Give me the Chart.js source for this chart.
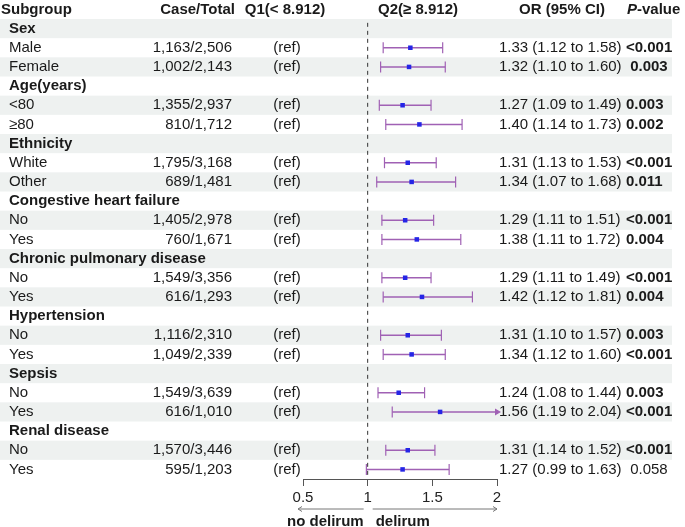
<!DOCTYPE html>
<html><head><meta charset="utf-8">
<script src="https://cdn.jsdelivr.net/npm/chart.js@4/dist/chart.umd.min.js"></script>
<style>html,body{margin:0;padding:0;background:#fff;}#wrap{position:relative;width:685px;height:527px;}</style>
</head><body><div id="wrap"><canvas id="c" width="685" height="527"></canvas></div>
<script>
const subgroups = ['Sex','Male','Female','Age(years)','<80','≥80','Ethnicity','White','Other','Congestive heart failure','No','Yes','Chronic pulmonary disease','No','Yes','Hypertension','No','Yes','Sepsis','No','Yes','Renal disease','No','Yes'];
const isGroup = [1,0,0,1,0,0,1,0,0,1,0,0,1,0,0,1,0,0,1,0,0,1,0,0];
const caseTotal = [null,'1,163/2,506','1,002/2,143',null,'1,355/2,937','810/1,712',null,'1,795/3,168','689/1,481',null,'1,405/2,978','760/1,671',null,'1,549/3,356','616/1,293',null,'1,116/2,310','1,049/2,339',null,'1,549/3,639','616/1,010',null,'1,570/3,446','595/1,203'];
const orValues = [null,1.33,1.32,null,1.27,1.40,null,1.31,1.34,null,1.29,1.38,null,1.29,1.42,null,1.31,1.34,null,1.24,1.56,null,1.31,1.27];
const ciLower = [null,1.12,1.10,null,1.09,1.14,null,1.13,1.07,null,1.11,1.11,null,1.11,1.12,null,1.10,1.12,null,1.08,1.19,null,1.14,0.99];
const ciUpper = [null,1.58,1.60,null,1.49,1.73,null,1.53,1.68,null,1.51,1.72,null,1.49,1.81,null,1.57,1.60,null,1.44,2.04,null,1.52,1.63];
const pValues = [null,'<0.001',' 0.003',null,'0.003','0.002',null,'<0.001','0.011',null,'<0.001','0.004',null,'<0.001','0.004',null,'0.003','<0.001',null,'0.003','<0.001',null,'<0.001',' 0.058'];
const pBold = [0,1,1,0,1,1,0,1,1,0,1,1,0,1,1,0,1,1,0,1,1,0,1,0];
const xTicks = [0.5, 1, 1.5, 2];
const X_MIN = 0.5, X_MAX = 2;

const FONT = '"Liberation Sans", Arial, Helvetica, sans-serif';
const PURPLE = '#a061b4';
const BLUE = '#2525e6';
const TXT = '#1a1a1a';

const ciData = [];
const pointData = [];
orValues.forEach((v, i) => {
  if (v === null) return;
  pointData.push({x: v, y: i});
  const hi = ciUpper[i];
  ciData.push({x: ciLower[i], y: i});
  ciData.push({x: Math.min(hi, X_MAX), y: i, arrow: hi > X_MAX});
  ciData.push({x: null, y: null});
});

const tablePlugin = {
  id: 'table',
  beforeDatasetsDraw(chart) {
    const ctx = chart.ctx, y = chart.scales.y;
    ctx.save();
    ctx.fillStyle = '#eef1f0';
    subgroups.forEach((s, i) => {
      if (i % 2 === 0) {
        const t = y.getPixelForValue(i - 0.5), b = y.getPixelForValue(i + 0.5);
        ctx.fillRect(0, t, 672, b - t);
      }
    });
    ctx.restore();
  },
  afterDraw(chart) {
    const ctx = chart.ctx, y = chart.scales.y, x = chart.scales.x;
    ctx.save();
    ctx.fillStyle = TXT;
    ctx.textBaseline = 'middle';
    const bold = '700 15px ' + FONT, reg = '400 15px ' + FONT;
    const hy = 10;
    ctx.font = bold;
    ctx.textAlign = 'left'; ctx.fillText('Subgroup', 1, hy);
    ctx.textAlign = 'right'; ctx.fillText('Case/Total', 235, hy);
    ctx.textAlign = 'center'; ctx.fillText('Q1(< 8.912)', 285, hy);
    ctx.fillText('Q2(≥ 8.912)', 418, hy);
    ctx.fillText('OR (95% CI)', 562, hy);
    ctx.textAlign = 'left';
    ctx.font = 'italic 700 15px ' + FONT;
    ctx.fillText('P', 627, hy);
    const pw = ctx.measureText('P').width;
    ctx.font = bold;
    ctx.fillText('-value', 627 + pw, hy);
    subgroups.forEach((s, i) => {
      const py = y.getPixelForValue(i);
      ctx.textAlign = 'left';
      ctx.font = isGroup[i] ? bold : reg;
      ctx.fillText(s, 9, py);
      if (isGroup[i]) return;
      ctx.font = reg;
      ctx.textAlign = 'right';
      ctx.fillText(caseTotal[i], 232, py);
      ctx.textAlign = 'center';
      ctx.fillText('(ref)', 287, py);
      ctx.textAlign = 'left';
      ctx.fillText(orValues[i].toFixed(2) + ' (' + ciLower[i].toFixed(2) + ' to ' + ciUpper[i].toFixed(2) + ')', 499, py);
      ctx.font = pBold[i] ? bold : reg;
      ctx.fillText(pValues[i], 626, py);
    });
    const ay = 509;
    const x1 = x.getPixelForValue(1), x0 = x.getPixelForValue(X_MIN), x2 = x.getPixelForValue(X_MAX);
    ctx.strokeStyle = '#777'; ctx.lineWidth = 1;
    ctx.beginPath();
    ctx.moveTo(x1 - 4, ay); ctx.lineTo(x0 - 5, ay);
    ctx.moveTo(x0 - 1, ay - 2.5); ctx.lineTo(x0 - 5, ay); ctx.lineTo(x0 - 1, ay + 2.5);
    ctx.moveTo(x1 + 5, ay); ctx.lineTo(x2, ay);
    ctx.moveTo(x2 - 4, ay - 2.5); ctx.lineTo(x2, ay); ctx.lineTo(x2 - 4, ay + 2.5);
    ctx.stroke();
    ctx.font = bold;
    ctx.fillStyle = TXT;
    ctx.textAlign = 'right'; ctx.fillText('no delirum', x1 - 4, 522);
    ctx.textAlign = 'left'; ctx.fillText('delirum', x1 + 8, 522);
    ctx.restore();
  }
};

new Chart(document.getElementById('c'), {
  type: 'scatter',
  data: {
    datasets: [
      {
        data: pointData, order: 0,
        pointStyle: 'rect', pointRadius: 3.2,
        backgroundColor: BLUE, borderColor: BLUE, borderWidth: 0, clip: false
      },
      {
        data: ciData, order: 1, showLine: true, spanGaps: false,
        borderColor: PURPLE, borderWidth: 1.5, backgroundColor: PURPLE,
        pointStyle: c => (c.raw && c.raw.arrow) ? 'triangle' : 'line',
        pointRadius: c => (c.raw && c.raw.arrow) ? 2.8 : 5.5,
        pointRotation: 90,
        pointBorderColor: PURPLE, pointBackgroundColor: PURPLE, pointBorderWidth: 1.2,
        clip: false
      },
      {
        data: [{x: 1, y: -0.3}, {x: 1, y: 23.3}], order: 2, showLine: true,
        borderColor: '#333', borderWidth: 1, borderDash: [4, 4], pointRadius: 0
      }
    ]
  },
  options: {
    responsive: false, animation: false, devicePixelRatio: 1,
    layout: {padding: {left: 303, right: 188, top: 19, bottom: 0}},
    plugins: {legend: {display: false}, tooltip: {enabled: false}},
    scales: {
      x: {
        type: 'linear', min: X_MIN, max: X_MAX, position: 'bottom',
        afterBuildTicks: s => { s.ticks = xTicks.map(v => ({value: v})); },
        afterFit: s => { s.height = 48; },
        grid: {drawOnChartArea: false, drawTicks: true, tickLength: 7, color: '#555', lineWidth: 1},
        border: {display: true, color: '#555', width: 1},
        ticks: {color: '#222', font: {size: 15, family: FONT}, padding: 3, maxRotation: 0, callback: v => String(v)}
      },
      y: {type: 'linear', min: -0.5, max: 23.5, reverse: true, display: false}
    }
  },
  plugins: [tablePlugin]
});
</script></body></html>
